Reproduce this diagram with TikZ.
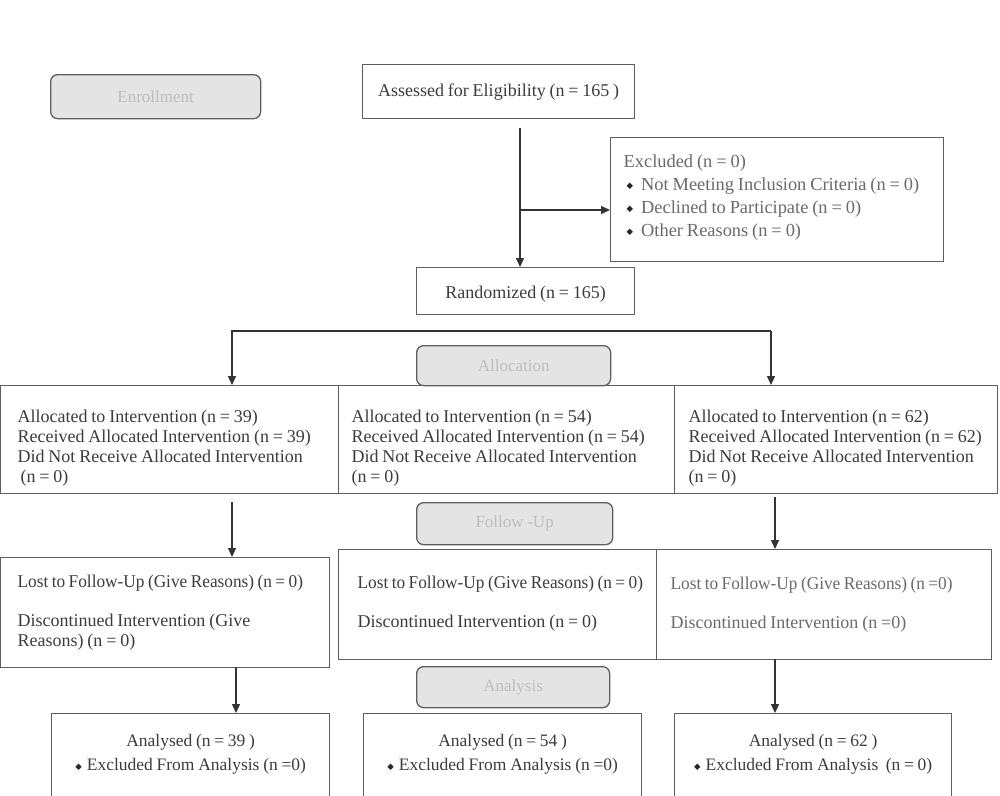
\documentclass[tikz,border=0pt]{standalone}
\usepackage{fontspec}
\setmainfont{Liberation Serif}[WordSpace=0.85]
\newfontfamily\cond{Liberation Serif}[FakeStretch=0.96,WordSpace=0.8]
\newfontfamily\dejavu{DejaVu Sans}
\usetikzlibrary{arrows.meta}
\definecolor{lc}{HTML}{5E5E5E}
\definecolor{ac}{HTML}{333333}
\definecolor{tc}{HTML}{3C3C3C}
\definecolor{tl}{HTML}{6A6A6A}
\definecolor{gf}{HTML}{E4E4E4}
\definecolor{gt}{HTML}{BEBEBE}
\newcommand\bul{{\dejavu\fontsize{8.5}{8}\selectfont\color{black!85}\raisebox{1.5pt}{◆}}}
\newcommand\lnx[1]{\mbox{\spaceskip=0pt\xspaceskip=0pt\relax #1}}
\begin{document}
\begin{tikzpicture}[x=1pt,y=-1pt,
 box/.style={draw=lc,line width=1.3pt,rectangle,inner ysep=0pt,anchor=north west,text=tc,
   font=\fontsize{18}{20}\selectfont},
 lab/.style={draw=lc,line width=1.3pt,fill=gf,rounded corners=7pt,text=gt,anchor=north west,
   font=\fontsize{17}{20}\selectfont,inner sep=0pt},
 arr/.style={draw=ac,line width=1.3pt,-{Triangle[width=8pt,length=9pt]}},
 lnk/.style={draw=ac,line width=1.3pt}]
\useasboundingbox (0,0) rectangle (1000,795);
\fill[white] (0,0) rectangle (1000,795);

% stage labels
\node[lab,minimum width=210pt,minimum height=44pt] (enr) at (50,74) {Enrollment};
\node[lab,minimum width=194pt,minimum height=40pt] (lalloc) at (416,345) {Allocation};
\node[lab,minimum width=196pt,minimum height=42pt] (lfol) at (416,502) {Follow -Up};
\node[lab,minimum width=193pt,minimum height=41pt] (lana) at (416,666) {Analysis};

% enrollment
\node[box,minimum width=272pt,minimum height=54pt,align=center] (assess) at (362,64)
  {Assessed for Eligibility (n = 165 )};
\node[box,minimum width=333pt,minimum height=124pt,inner xsep=13pt,text width=307pt,align=left,
  text=tl,font=\fontsize{18.4}{23}\selectfont] (excl) at (610,137)
  {\lnx{Excluded (n = 0)}\\
   \lnx{\hspace*{3pt}\bul\hspace{8pt}Not Meeting Inclusion Criteria (n = 0)}\\
   \lnx{\hspace*{3pt}\bul\hspace{8pt}Declined to Participate (n = 0)}\\
   \lnx{\hspace*{3pt}\bul\hspace{8pt}Other Reasons (n = 0)}\\[-14pt]\mbox{}};
\node[box,minimum width=218pt,minimum height=47pt,align=center] (rand) at (416,267)
  {\mbox{}\\[-1pt]Randomized (n = 165)};

% allocation
\node[box,minimum width=338pt,minimum height=108pt,inner xsep=17pt,text width=304pt,align=left] (al1) at (0,385)
  {\mbox{}\\[10pt]\lnx{Allocated to Intervention (n = 39)}\\ \lnx{Received Allocated Intervention (n = 39)}\\
   \lnx{Did Not Receive Allocated Intervention}\\ \lnx{\,(n = 0)}};
\node[box,minimum width=336pt,minimum height=108pt,inner xsep=13pt,text width=310pt,align=left] (al2) at (338,385)
  {\mbox{}\\[10pt]\lnx{Allocated to Intervention (n = 54)}\\ \lnx{Received Allocated Intervention (n = 54)}\\
   \lnx{Did Not Receive Allocated Intervention}\\ \lnx{(n = 0)}};
\node[box,minimum width=323pt,minimum height=108pt,inner xsep=14pt,text width=295pt,align=left] (al3) at (674,385)
  {\mbox{}\\[10pt]\lnx{Allocated to Intervention (n = 62)}\\ \lnx{Received Allocated Intervention (n = 62)}\\
   \lnx{Did Not Receive Allocated Intervention}\\ \lnx{(n = 0)}};

% follow-up
\node[box,minimum width=329pt,minimum height=110pt,inner xsep=17pt,text width=295pt,align=left] (fu1) at (0,557)
  {\lnx{\cond Lost to Follow-Up (Give Reasons) (n = 0)}\\[19pt]
   \lnx{Discontinued Intervention (Give}\\ \lnx{Reasons) (n = 0)}};
\node[box,minimum width=318pt,minimum height=110pt,inner xsep=19pt,text width=280pt,align=left] (fu2) at (338,549)
  {\lnx{\cond Lost to Follow-Up (Give Reasons) (n = 0)}\\[19pt]
   \lnx{Discontinued Intervention (n = 0)}\\[-14pt] \mbox{}};
\node[box,minimum width=335pt,minimum height=110pt,inner xsep=14pt,text width=307pt,align=left,text=tl] (fu3) at (656,549)
  {\lnx{\cond Lost to Follow-Up (Give Reasons) (n =0)}\\[19pt]
   \lnx{Discontinued Intervention (n =0)}};

% analysis
\node[box,minimum width=278pt,minimum height=84pt,align=center,font=\fontsize{17.5}{24}\selectfont] (an1) at (51,713)
  {Analysed (n = 39 )\\ \bul\hspace{5pt}Excluded From Analysis (n =0)\\[-18pt]\mbox{}};
\node[box,minimum width=278pt,minimum height=84pt,align=center,font=\fontsize{17.5}{24}\selectfont] (an2) at (363,713)
  {Analysed (n = 54 )\\ \bul\hspace{5pt}Excluded From Analysis (n =0)\\[-18pt]\mbox{}};
\node[box,minimum width=277pt,minimum height=84pt,align=center,font=\fontsize{17.5}{24}\selectfont] (an3) at (674,713)
  {Analysed (n = 62 )\\ \bul\hspace{5pt}Excluded From Analysis \ (n = 0)\\[-18pt]\mbox{}};

% connectors
\coordinate (a1) at (520,128);
\coordinate (a2) at (520,210);
\draw[arr] (a1) -- (a1 |- rand.north);
\draw[arr] (a2) -- (a2 -| excl.west);
\coordinate (h1) at (232,331);
\coordinate (h2) at (771,331);
\draw[arr] (h2) -- (h1) -- (h1 |- al1.north);
\draw[arr] (h2) -- (h2 |- al3.north);
\coordinate (f1) at (232,502);
\coordinate (f3) at (775,497);
\draw[arr] (f1) -- (f1 |- fu1.north);
\draw[arr] (f3) -- (f3 |- fu3.north);
\coordinate (g1) at (236,667);
\coordinate (g3) at (775,659);
\draw[arr] (g1) -- (g1 |- an1.north);
\draw[arr] (g3) -- (g3 |- an3.north);
\end{tikzpicture}
\end{document}
